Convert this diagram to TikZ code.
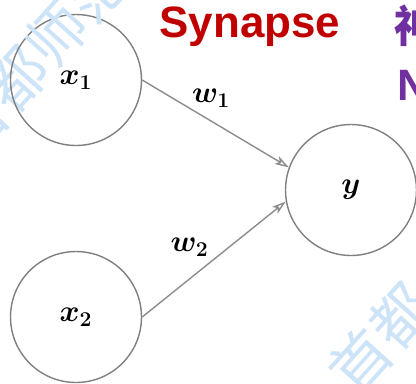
\documentclass[tikz,border=0pt]{standalone}
\usepackage{amsmath}
\usepackage{fontspec}
\newfontfamily\headfont{Liberation Sans}
\newfontfamily\cjk{Noto Sans CJK SC}
\usetikzlibrary{arrows.meta}
\definecolor{synred}{HTML}{C00000}
\definecolor{neupurple}{HTML}{7030A0}
\definecolor{wmblue}{HTML}{CCE3F8}

\begin{document}
\begin{tikzpicture}[x=0.02cm,y=-0.02cm,
    neuron/.style={circle,draw=black!50,line width=0.8pt,minimum size=2.62cm,
      inner sep=0pt,font=\fontsize{18}{20}\selectfont},
    syn/.style={draw=black!45,line width=0.8pt,
      -{Stealth[open,length=8pt,width=5pt,inset=2pt]}},
    wlabel/.style={font=\fontsize{18}{20}\selectfont},
    wmark/.style={text=wmblue,rotate=48,inner sep=0pt,
      font={\cjk\fontsize{34}{36}\selectfont}},
    title/.style={font={\headfont\bfseries\fontsize{25}{30}\selectfont}}]
      \useasboundingbox (0,0) rectangle (416,383);
      \clip (0,0) rectangle (416,383);
      % faint stamp in the background
      \foreach \a/\b/\n in {-44/146/1, 340/383/2}
        \node[wmark,anchor=west] (wm\n) at (\a,\b) {首都};
      \node[neuron] (x1) at (76,80) {$\boldsymbol{x_1}$};
      \node[neuron] (x2) at (76,317) {$\boldsymbol{x_2}$};
      \node[neuron] (y) at (351,190) {$\boldsymbol{y}$};
      \draw[syn] (x1.east) -- (y.160)
        node[wlabel,pos=0.47,above=4pt] (w1) {$\boldsymbol{w_1}$};
      \draw[syn] (x2.east) -- (y.190)
        node[wlabel,pos=0.33,above=9pt] (w2) {$\boldsymbol{w_2}$};
      \node[title,text=synred,fill=white,inner xsep=12pt,inner ysep=7pt,
        anchor=base] (synapse) at (250,37) {Synapse};
      \node[title,text=neupurple,anchor=base west,inner sep=0pt] (zh) at (394,42)
        {\cjk 神经元};
      \node[title,text=neupurple,anchor=base west,inner sep=0pt] (neuron) at (397,100)
        {Neuron};
      % top-left stamp carries on past the first two characters
      \node[wmark,anchor=west] (wm3) at (wm1.east) {师范};
\end{tikzpicture}
\end{document}
